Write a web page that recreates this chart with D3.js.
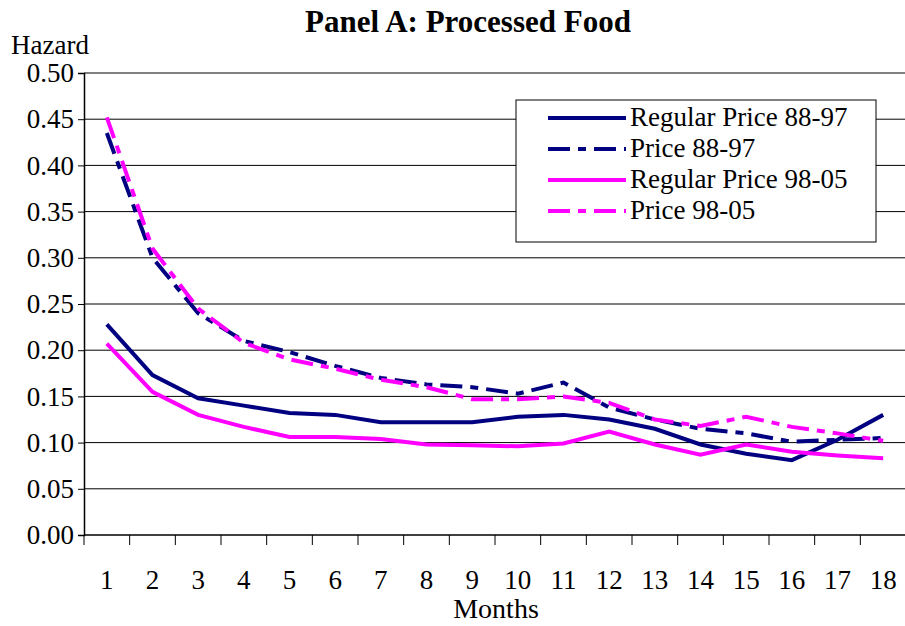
<!DOCTYPE html><html><head><meta charset="utf-8"><script src="https://cdn.jsdelivr.net/npm/d3@7"></script>
<style>body{margin:0;background:#fff}text{font-family:"Liberation Serif","Times New Roman",serif}</style></head><body><svg width="905" height="626"></svg>
<script>
const months=d3.range(1,19);
const reg8897=[0.228,0.173,0.148,0.140,0.132,0.130,0.122,0.122,0.122,0.128,0.130,0.125,0.115,0.098,0.088,0.081,0.103,0.130];
const price8897=[0.435,0.300,0.240,0.210,0.198,0.183,0.170,0.163,0.160,0.153,0.165,0.138,0.125,0.115,0.110,0.101,0.103,0.105];
const reg9805=[0.207,0.155,0.130,0.117,0.106,0.106,0.104,0.098,0.097,0.096,0.099,0.112,0.098,0.087,0.098,0.090,0.086,0.083];
const price9805=[0.452,0.310,0.245,0.208,0.190,0.180,0.168,0.160,0.147,0.147,0.150,0.143,0.125,0.118,0.128,0.117,0.110,0.102];
const yTicks=d3.range(0,0.501,0.05);
const series=[
 {name:"Regular Price 88-97",v:reg8897,c:"#000080",dash:null},
 {name:"Price 88-97",v:price8897,c:"#000080",dash:"22,8,8,8"},
 {name:"Regular Price 98-05",v:reg9805,c:"#ff00ff",dash:null},
 {name:"Price 98-05",v:price9805,c:"#ff00ff",dash:"22,8,8,8"}];
const svg=d3.select("svg");
const L=84,R=906,T=73,B=535;
const x=d3.scaleBand().domain(months).range([L,R]);
const y=d3.scaleLinear().domain([0,0.5]).range([B,T]);
svg.append("g").selectAll("line").data(yTicks.slice(1)).join("line").attr("x1",L).attr("x2",R)
 .attr("y1",d=>y(d)).attr("y2",d=>y(d)).attr("stroke","#000").attr("stroke-width",1);
const ya=svg.append("g").attr("transform",`translate(${L},0)`).call(d3.axisLeft(y).tickValues(yTicks).tickFormat(d3.format(".2f")).tickSize(6).tickPadding(4));
ya.select(".domain").attr("stroke","#000").attr("stroke-width",1.5);
ya.selectAll("text").attr("font-size",27).attr("fill","#000");
const xa=svg.append("g").attr("transform",`translate(0,${B})`);
xa.append("line").attr("x1",L).attr("x2",R).attr("stroke","#000").attr("stroke-width",1.5);
xa.selectAll(".t").data(months.concat([19])).join("line").attr("x1",d=>d<=18?x(d):R).attr("x2",d=>d<=18?x(d):R).attr("y1",0).attr("y2",10).attr("stroke","#000");
xa.selectAll("text").data(months).join("text").attr("x",d=>x(d)+x.bandwidth()/2).attr("y",54).attr("text-anchor","middle").attr("font-size",27).text(d=>d);
const line=d3.line().x((d,i)=>x(months[i])+x.bandwidth()/2).y(d=>y(d));
series.forEach(s=>svg.append("path").attr("d",line(s.v)).attr("fill","none").attr("stroke",s.c).attr("stroke-width",4).attr("stroke-dasharray",s.dash));
svg.append("text").attr("x",468).attr("y",32).attr("text-anchor","middle").attr("font-size",31).attr("font-weight","bold").text("Panel A: Processed Food");
svg.append("text").attr("x",11).attr("y",54).attr("font-size",27).text("Hazard");
svg.append("text").attr("x",496).attr("y",618).attr("text-anchor","middle").attr("font-size",28).text("Months");
const lg=svg.append("g");
lg.append("rect").attr("x",516).attr("y",100).attr("width",360).attr("height",142).attr("fill","#fff").attr("stroke","#000");
series.forEach((s,i)=>{const yy=118+i*31;
 lg.append("line").attr("x1",548).attr("x2",626).attr("y1",yy).attr("y2",yy).attr("stroke",s.c).attr("stroke-width",4).attr("stroke-dasharray",s.dash);
 lg.append("text").attr("x",630).attr("y",yy+8).attr("font-size",27).text(s.name);});
</script></body></html>
